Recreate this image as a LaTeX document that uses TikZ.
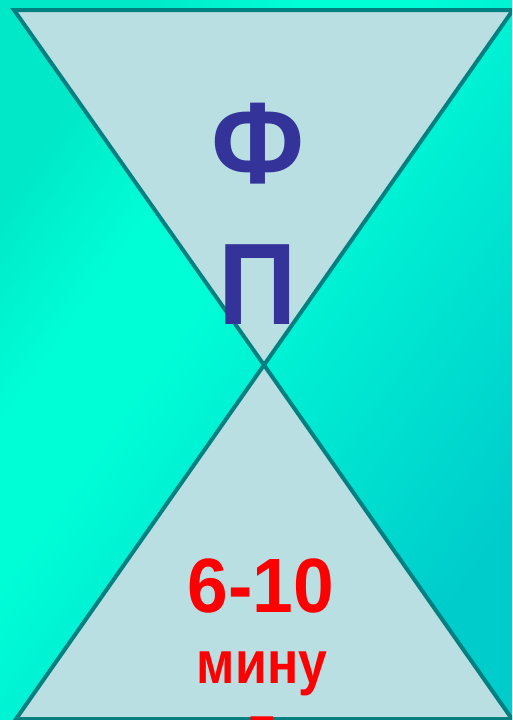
\documentclass[tikz,border=0pt]{standalone}
\usepackage{fontspec}
\setmainfont{Liberation Sans}
\usetikzlibrary{positioning}
\definecolor{seaDark}{HTML}{00E8C8}
\definecolor{seaBright}{HTML}{00FED6}
\definecolor{seaDeep}{HTML}{00CCCC}
\definecolor{glass}{HTML}{B9DFE3}
\definecolor{rim}{HTML}{008080}
\definecolor{ink}{HTML}{333399}
\pgfdeclarehorizontalshading{sea}{100bp}{color(0bp)=(seaDark); color(25bp)=(seaDark);
  color(36bp)=(seaBright); color(43bp)=(seaBright); color(75bp)=(seaDeep); color(100bp)=(seaDeep)}
\tikzset{
  half/.style={fill=glass, draw=rim, line width=4pt, line join=miter},
  letter/.style={text=ink, anchor=base, inner sep=0pt, xscale=0.94, font=\bfseries\fontsize{116}{116}\selectfont},
  timetext/.style={text=red, anchor=base, inner sep=0pt, xscale=0.95, font=\bfseries\fontsize{#1}{#1}\selectfont}
}

\begin{document}
\begin{tikzpicture}[x=1pt, y=1pt]
        \clip (0,0) rectangle (512,-720);
        % Background
        \shade[shading=sea, shading angle=-35] (0,0) rectangle (512,-720);

        % Hourglass
        \draw[half] (14,-10) -- (513,-10) -- (264,-365) -- cycle;
        \draw[half] (264,-365) -- (512,-719) -- (16,-719) -- cycle;

        % Nodes
        \node[letter] (F) at (258,-183) {Ф};
        \node[letter] (P) at (258,-324) {П};
        \node[timetext=77] (time) at (261,-612) {6-10};
        \node[timetext=60, xscale=0.91] (min) at (262,-683) {мину};
        \node[timetext=60, xscale=0.91] (t) at (262,-748) {т};
    \end{tikzpicture}
\end{document}
